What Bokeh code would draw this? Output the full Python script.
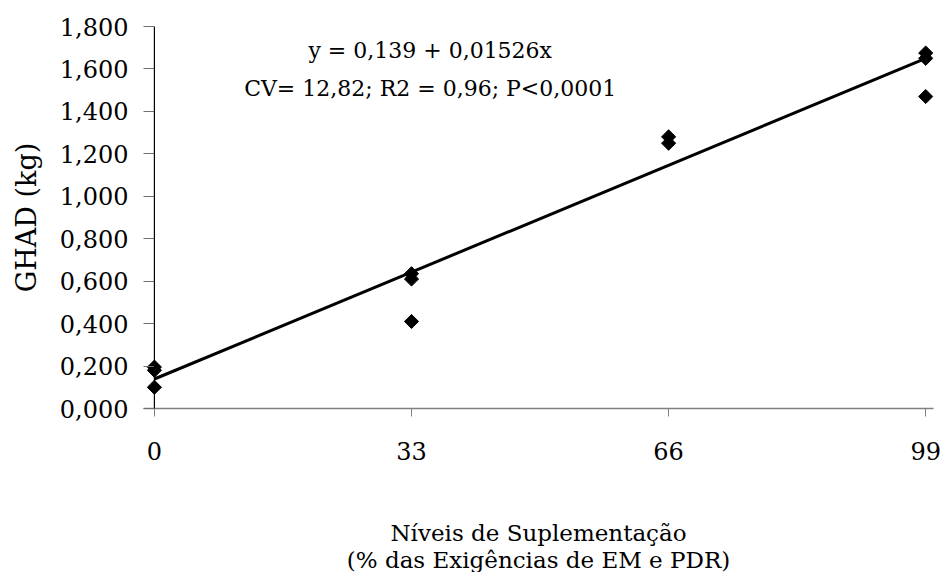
import numpy as np
from bokeh.plotting import figure
from bokeh.models import (Range1d, FixedTicker, CustomJSTickFormatter, Span, Label,
                          ColumnDataSource, LinearAxis)
from bokeh.embed import file_html
from bokeh.resources import INLINE

# Observed daily weight gain by supplementation level
niveis = [0, 0, 0, 33, 33, 33, 66, 66, 99, 99, 99]
ghad = [0.195, 0.180, 0.100, 0.635, 0.610, 0.410, 1.280, 1.250, 1.675, 1.650, 1.470]

# Fitted regression
intercepto = 0.139
inclinacao = 0.01526
x_fit = [0, 99]

x_ticks = [0, 33, 66, 99]
y_ticks = [0.0, 0.2, 0.4, 0.6, 0.8, 1.0, 1.2, 1.4, 1.6, 1.8]

equacao = "y = 0,139 + 0,01526x"
estatisticas = "CV= 12,82; R2 = 0,96; P<0,0001"
x_titulo = ["Níveis de Suplementação", "(% das Exigências de EM e PDR)"]
y_titulo = "GHAD (kg)"

FONT = "DejaVu Serif"

p = figure(
    frame_width=790, frame_height=382,
    min_border_left=143, min_border_right=12,
    min_border_top=26, min_border_bottom=0,
    x_range=Range1d(-1.4, 100), y_range=Range1d(0, 1.8),
    output_backend="svg", toolbar_location=None,
    background_fill_color="white", border_fill_color="white",
)
p.outline_line_color = None
p.xgrid.visible = False
p.ygrid.visible = False

# y axis: labels at the frame edge, the axis line itself sits at x = 0
ya = p.yaxis[0]
ya.ticker = FixedTicker(ticks=y_ticks)
ya.formatter = CustomJSTickFormatter(code="return tick.toFixed(3).replace('.', ',');")
ya.axis_line_color = None
ya.major_tick_in = 11
ya.major_tick_out = 0
ya.major_tick_line_color = "#707070"
ya.minor_tick_line_color = None
ya.major_label_standoff = 15
ya.major_label_text_font = FONT
ya.major_label_text_font_size = "24px"
ya.major_label_text_color = "black"
ya.axis_label = y_titulo
ya.axis_label_text_font = FONT
ya.axis_label_text_font_size = "27px"
ya.axis_label_text_font_style = "normal"
ya.axis_label_text_color = "black"
ya.axis_label_standoff = 15

xa = p.xaxis[0]
xa.ticker = FixedTicker(ticks=x_ticks)
xa.axis_line_color = "#808080"
xa.axis_line_width = 1.5
xa.major_tick_in = 0
xa.major_tick_out = 8
xa.major_tick_line_color = "#808080"
xa.minor_tick_line_color = None
xa.major_label_standoff = 25
xa.major_label_text_font = FONT
xa.major_label_text_font_size = "24px"
xa.major_label_text_color = "black"
xa.axis_label = x_titulo[0]
xa.axis_label_text_font = FONT
xa.axis_label_text_font_size = "23px"
xa.axis_label_text_font_style = "normal"
xa.axis_label_text_color = "black"
xa.axis_label_standoff = 57

# second line of the x title, carried by a bare axis stacked underneath
xa2 = LinearAxis(ticker=FixedTicker(ticks=[]), axis_line_color=None,
                 major_tick_in=0, major_tick_out=0, minor_tick_in=0, minor_tick_out=0,
                 major_label_standoff=0, major_label_text_font_size="0px",
                 axis_label=x_titulo[1], axis_label_text_font=FONT,
                 axis_label_text_font_size="23px", axis_label_text_font_style="normal",
                 axis_label_text_color="black", axis_label_standoff=-2)
p.add_layout(xa2, "below")

p.add_layout(Span(location=0, dimension="height", line_color="black", line_width=1.2))

# regression line
y_fit = [intercepto + inclinacao * v for v in x_fit]
p.line(x_fit, y_fit, line_color="black", line_width=3)

# observations
src = ColumnDataSource(dict(x=niveis, y=ghad))
p.scatter("x", "y", source=src, marker="square", size=10, angle=np.pi / 4,
          fill_color="black", line_color="black")

# equation and fit statistics
for txt, yy in [(equacao, 1.685), (estatisticas, 1.51)]:
    p.add_layout(Label(x=35.4, y=yy, text=txt, text_align="center",
                       text_baseline="middle", text_font=FONT,
                       text_font_size="22px", text_color="black"))

open("out.html", "w").write(file_html(p, INLINE))
